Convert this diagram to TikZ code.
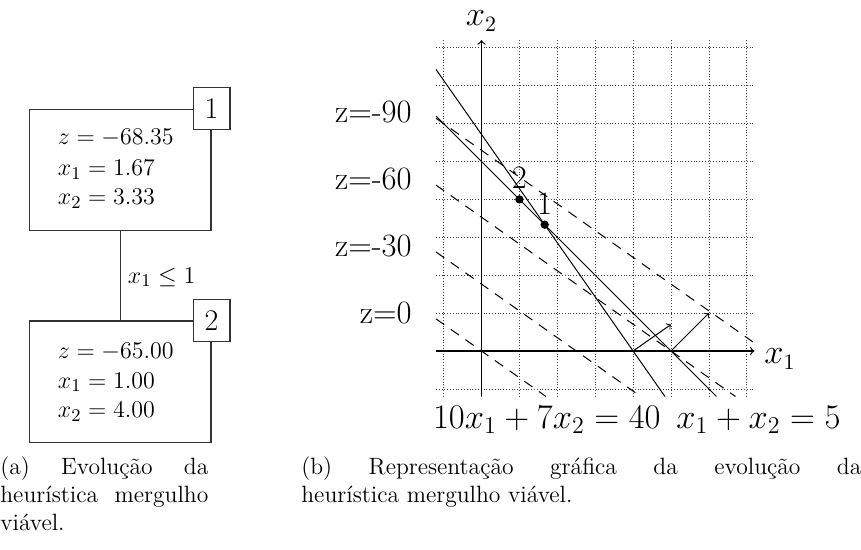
\documentclass[tikz,border=0pt]{standalone}
\usepackage{fontspec}
\begin{document}
\begin{tikzpicture}[x=0.5pt,y=-0.5pt,
  boxst/.style={draw=black!80, line width=0.6pt, inner sep=0pt},
  labst/.style={draw=black!80, line width=0.6pt, fill=white, inner sep=0pt, minimum width=18.3pt, minimum height=20.85pt, font=\fontsize{15}{17}\selectfont},
  boxtxt/.style={anchor=base west, inner sep=0pt, font=\fontsize{12.5}{15}\selectfont},
  edgetxt/.style={anchor=base west, inner sep=0pt, font=\fontsize{12.3}{14}\selectfont},
  captxt/.style={anchor=north west, inner sep=0pt, align=justify, font=\fontsize{11.8}{14.15}\selectfont},
  gridst/.style={black!75, densely dotted, line width=0.4pt},
  axisst/.style={line width=0.6pt, ->},
  cline/.style={line width=0.5pt},
  zline/.style={line width=0.5pt, dash pattern=on 5pt off 4pt},
  gtxt/.style={inner sep=0pt, font=\fontsize{16.3}{19}\selectfont},
  ctxt/.style={inner sep=0pt, font=\fontsize{16.5}{19}\selectfont},
  dotst/.style={circle, fill=black, inner sep=0pt, minimum size=4.2pt}
]
\useasboundingbox (0,0) rectangle (861,550);

% ---------- left: tree ----------
\node[boxst, minimum width=90.85pt, minimum height=60.7pt] (n1) at (120.15,170) {};
\node[boxst, minimum width=90.85pt, minimum height=60.7pt] (n2) at (120.15,381.7) {};
\draw[black!80, line width=0.6pt] (n1.south) -- (n2.north);
\node[labst] (l1) at (n1.north east) {1};
\node[labst] (l2) at (n2.north east) {2};
\node[boxtxt] (t11) at (57.5,145) {$z = -68.35$};
\node[boxtxt] (t12) at (57.5,175.5) {$x_1 = 1.67$};
\node[boxtxt] (t13) at (57.5,205) {$x_2 = 3.33$};
\node[boxtxt] (t21) at (57.5,358.3) {$z = -65.00$};
\node[boxtxt] (t22) at (57.5,388) {$x_1 = 1.00$};
\node[boxtxt] (t23) at (57.5,417.7) {$x_2 = 4.00$};
\node[edgetxt] (e12) at (127.5,283.3) {$x_1 \leq 1$};

% ---------- right: graph ----------
\begin{scope}[shift={(481.5,351)}, x=18.95pt, y=18.95pt]
  \draw[gridst, step={(1,1)}] (-1.2,-1.2) grid (7.2,8.2);
  \coordinate (xs) at (-1.2,0);
  \coordinate (xe) at (7.2,0);
  \coordinate (ys) at (0,-1.2);
  \coordinate (ye) at (0,8.2);
  \draw[axisst] (xs) -- (xe);
  \draw[axisst] (ys) -- (ye);
  % constraints
  \coordinate (ca1) at (-1.2,7.4286);
  \coordinate (ca2) at (4.84,-1.2);
  \coordinate (cb1) at (-1.2,6.2);
  \coordinate (cb2) at (6.2,-1.2);
  \draw[cline] (ca1) -- (ca2);
  \draw[cline] (cb1) -- (cb2);
  % objective lines
  \coordinate (z0a) at (-1.2,0.8471);  \coordinate (z0b) at (1.7,-1.2);
  \coordinate (z1a) at (-1.2,2.6118);  \coordinate (z1b) at (4.2,-1.2);
  \coordinate (z2a) at (-1.2,4.3765);  \coordinate (z2b) at (6.7,-1.2);
  \coordinate (z3a) at (-1.2,6.1412);  \coordinate (z3b) at (7.2,0.2118);
  \draw[zline] (z0a) -- (z0b);
  \draw[zline] (z1a) -- (z1b);
  \draw[zline] (z2a) -- (z2b);
  \draw[zline] (z3a) -- (z3b);
  % normals
  \coordinate (a1) at (4,0); \coordinate (a2) at (5,0.7);
  \coordinate (b1) at (5,0); \coordinate (b2) at (6,1);
  \draw[cline,->] (a1) -- (a2);
  \draw[cline,->] (b1) -- (b2);
  % points
  \node[dotst] (p1) at (1.6667,3.3333) {};
  \node[dotst] (p2) at (1,4) {};
\end{scope}
\node[gtxt, anchor=base] (p1l) at (544.6,215) {1};
\node[gtxt, anchor=base] (p2l) at (519.4,188.5) {2};
\node[gtxt, anchor=base west] (x1l) at (764,364) {$x_1$};
\node[gtxt, anchor=base west] (x2l) at (465.5,26) {$x_2$};
\node[gtxt, anchor=base east] (zl3) at (412,122.8) {z=-90};
\node[gtxt, anchor=base east] (zl2) at (412,189.7) {z=-60};
\node[gtxt, anchor=base east] (zl1) at (412,256.5) {z=-30};
\node[gtxt, anchor=base east] (zl0) at (412,323.4) {z=0};
\node[ctxt, anchor=base east] (c1l) at (661,428.3) {$10x_1 + 7x_2 = 40$};
\node[ctxt, anchor=base west] (c2l) at (676,428.3) {$x_1 + x_2 = 5$};

% ---------- captions ----------
\node[captxt, text width=104pt] (capa) at (0,456) {(a)\hfill Evolução\hfill da\\heurística\hfill mergulho\\viável.};
\node[captxt, text width=280pt] (capb) at (301,456) {(b)\hfill Representação\hfill gráfica\hfill da\hfill evolução\hfill da\\heurística mergulho viável.};
\end{tikzpicture}
\end{document}
